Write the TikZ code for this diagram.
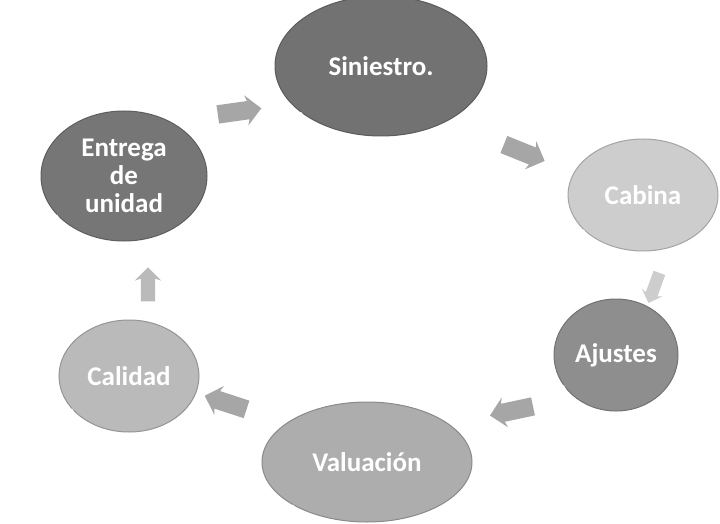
\documentclass[tikz,border=0pt]{standalone}
\usepackage{fontspec}
\setmainfont{Carlito}
\usetikzlibrary{shapes.geometric,shapes.arrows}
\definecolor{cSin}{HTML}{727272}
\definecolor{cEnt}{HTML}{767676}
\definecolor{cCab}{HTML}{CDCDCD}
\definecolor{cAju}{HTML}{8E8E8E}
\definecolor{cVal}{HTML}{ADADAD}
\definecolor{cCal}{HTML}{BABABA}
\definecolor{cArr}{HTML}{A6A6A6}
\tikzset{
  bubble/.style={ellipse, draw=#1!80!black, line width=1pt, fill=#1, text=white,
    font=\bfseries\fontsize{27}{28}\selectfont, align=center, inner sep=0pt},
  blockarrow/.style={single arrow, fill=#1, draw=none, minimum height=44pt,
    single arrow head extend=6pt, single arrow head indent=2pt, inner sep=9pt},
  gloss/.style={draw=white, line width=1.6pt, opacity=0.75}
}
\begin{document}
\begin{tikzpicture}[x=1pt,y=-1pt]
\useasboundingbox (0,0) rectangle (720,524);
\fill[white] (0,0) rectangle (720,524);
% bubbles
\node[bubble=cSin, minimum width=212pt, minimum height=140pt] (sin) at (381,66) {Siniestro.};
\node[bubble=cCab, minimum width=150pt, minimum height=112pt] (cab) at (643,195) {Cabina};
\node[bubble=cAju, minimum width=124pt, minimum height=112pt] (aju) at (616,355) {Ajustes};
\node[bubble=cVal, minimum width=210pt, minimum height=120pt] (val) at (367,462) {Valuación};
\node[bubble=cCal, minimum width=140pt, minimum height=112pt] (cal) at (129,376) {Calidad};
\node[bubble=cEnt, minimum width=166pt, minimum height=130pt] (ent) at (124,176) {Entrega\\de\\unidad};
% gloss arcs
\draw[gloss] (sin.210) arc[start angle=200, end angle=250, x radius=100pt, y radius=66pt];
\draw[gloss] (cab.210) arc[start angle=200, end angle=250, x radius=70pt, y radius=52pt];
\draw[gloss] (aju.210) arc[start angle=200, end angle=250, x radius=58pt, y radius=52pt];
\draw[gloss] (val.210) arc[start angle=200, end angle=250, x radius=100pt, y radius=56pt];
\draw[gloss] (cal.210) arc[start angle=200, end angle=250, x radius=66pt, y radius=52pt];
\draw[gloss] (ent.210) arc[start angle=200, end angle=250, x radius=78pt, y radius=61pt];
% block arrows
\node[blockarrow=cArr, rotate=8] (a1) at (235,112) {};
\node[blockarrow=cArr, rotate=-22] (a2) at (520,151) {};
\node[blockarrow=cCab, rotate=-110, minimum height=32pt, inner sep=6pt, single arrow head extend=5pt] (a3) at (655,285) {};
\node[blockarrow=cArr, rotate=192] (a4) at (516,410) {};
\node[blockarrow=cArr, rotate=162] (a5) at (230,404) {};
\node[blockarrow=cCal, rotate=90, minimum height=34pt, inner sep=7pt] (a6) at (148,288) {};
\end{tikzpicture}
\end{document}
